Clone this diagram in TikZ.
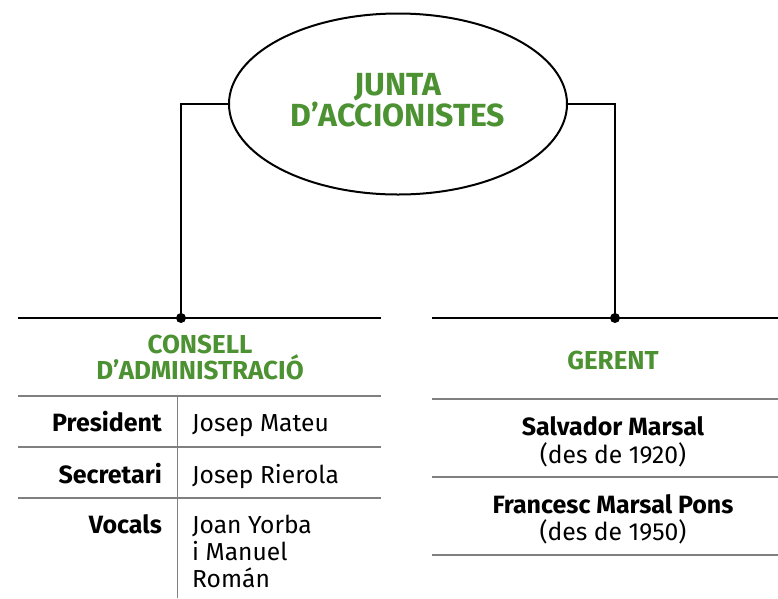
\documentclass[tikz,border=0pt]{standalone}
\usepackage{fontspec}
\setmainfont{Fira Sans}
\usetikzlibrary{shapes.geometric}
\definecolor{hgreen}{RGB}{76,146,50}
\definecolor{rulegray}{RGB}{128,128,128}
\tikzset{
  heading/.style={text=hgreen, font=\bfseries\fontsize{26}{26}\selectfont, inner sep=0pt, anchor=base},
  blackline/.style={draw=black, line width=2pt},
  grayline/.style={draw=rulegray, line width=1.5pt},
  vline/.style={draw=rulegray, line width=1pt},
  lbl/.style={font=\bfseries\fontsize{25}{26}\selectfont, inner sep=0pt, anchor=base east},
  val/.style={font=\fontsize{24.6}{26}\selectfont, inner sep=0pt, anchor=base west},
  cval/.style={font=\fontsize{24.7}{26}\selectfont, inner sep=0pt, anchor=base},
  cname/.style={font=\bfseries\fontsize{25}{26}\selectfont, inner sep=0pt, anchor=base},
  dot/.style={circle, fill=black, inner sep=0pt, minimum size=10pt}
}
\begin{document}
\begin{tikzpicture}[x=1pt,y=-1pt]
\useasboundingbox (0,0) rectangle (778,598);
% ellipse
\node[ellipse, draw=black, line width=2pt, minimum width=338pt, minimum height=181pt, inner sep=0pt] (junta) at (398,104) {};
\node[text=hgreen, font=\bfseries\fontsize{32}{28}\selectfont, align=center, inner sep=0pt] (juntatxt)
      at ([yshift=4pt]junta.center) {JUNTA\\D’ACCIONISTES};
% dots
\node[dot] (dl) at (181,318) {};
\node[dot] (dr) at (615,318) {};
\coordinate (llA) at (18,318);
\coordinate (llB) at (381,318);
\coordinate (rlA) at (432,318);
\coordinate (rlB) at (778,318);
\draw[blackline] (llA) -- (llB);
\draw[blackline] (rlA) -- (rlB);
\draw[blackline] (junta.west) -| (dl.center);
\draw[blackline] (junta.east) -| (dr.center);
% left heading
\node[heading] (cons1) at (200,353) {CONSELL};
\node[heading] (cons2) at (200,379) {D’ADMINISTRACIÓ};
% left table rules
\coordinate (t1a) at (18,396); \coordinate (t1b) at (381,396);
\coordinate (t2a) at (18,447); \coordinate (t2b) at (381,447);
\coordinate (t3a) at (18,498); \coordinate (t3b) at (381,498);
\coordinate (va) at (177,396); \coordinate (vb) at (177,598);
\draw[grayline] (t1a) -- (t1b);
\draw[grayline] (t2a) -- (t2b);
\draw[grayline] (t3a) -- (t3b);
\draw[vline] (va) -- (vb);
% rows
\node[lbl] (pres) at (162,431) {President};
\node[val] (presv) at (192,431) {Josep Mateu};
\node[lbl] (secr) at (162,483) {Secretari};
\node[val] (secrv) at (192,483) {Josep Rierola};
\node[lbl] (voc) at (162,533) {Vocals};
\node[val] (voc1) at (192,533) {Joan Yorba};
\node[val] (voc2) at (192,560) {i Manuel};
\node[val] (voc3) at (192,587) {Román};
% right
\node[heading] (ger) at (613,369) {GERENT};
\coordinate (r1a) at (432,399); \coordinate (r1b) at (778,399);
\coordinate (r2a) at (432,477); \coordinate (r2b) at (778,477);
\coordinate (r3a) at (432,555); \coordinate (r3b) at (778,555);
\draw[grayline] (r1a) -- (r1b);
\draw[grayline] (r2a) -- (r2b);
\draw[grayline] (r3a) -- (r3b);
\node[cname] (sal) at (613,435) {Salvador Marsal};
\node[cval] (sald) at (613,463) {(des de 1920)};
\node[cname] (fra) at (613,513) {Francesc Marsal Pons};
\node[cval] (frad) at (613,540) {(des de 1950)};
\end{tikzpicture}
\end{document}
